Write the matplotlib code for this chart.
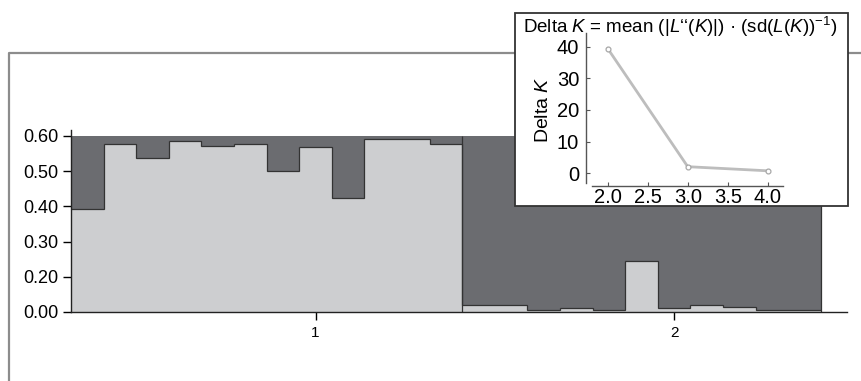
import numpy as np
import matplotlib
matplotlib.use("Agg")
import matplotlib.pyplot as plt
from matplotlib.patches import Rectangle
from matplotlib.lines import Line2D

plt.rcParams['font.family'] = ['Liberation Sans', 'DejaVu Sans']
plt.rcParams['mathtext.fontset'] = 'custom'
plt.rcParams['mathtext.rm'] = 'Liberation Sans'
plt.rcParams['mathtext.it'] = 'Liberation Sans:italic'

# membership to the light cluster, one value per individual
light_q = [0.588, 0.956, 0.873, 0.973, 0.941, 0.956, 0.803, 0.939, 0.645, 0.985, 0.985, 0.956,
           0.038, 0.038, 0.013, 0.025, 0.013, 0.288, 0.025, 0.040, 0.027, 0.011, 0.011]
group_sizes = [12, 11]
group_labels = ["1", "2"]
y_ticklabels = ["0.00", "0.20", "0.30", "0.40", "0.50", "0.60"]

# Delta K inset
k_values = [2.0, 3.0, 4.0]
delta_k = [39.4, 2.1, 0.8]

LIGHT = "#cdced0"
DARK = "#6b6c70"

W, H = 861, 381
fig = plt.figure(figsize=(W / 100, H / 100), dpi=100)

def fx(px):
    return px / W

def fy(py):
    return (H - py) / H

# outer frame (only left and top edges are inside the picture)
fig.add_artist(Line2D([fx(9), fx(9), 1.0], [0.0, fy(53), fy(53)], transform=fig.transFigure,
                      color="#8c8c8c", lw=1.6, zorder=0))

ax = fig.add_axes([fx(71), fy(312), fx(847) - fx(71), fy(130) - fy(312)])
light = np.array(light_q)
dark = 1 - light
x = np.arange(len(light)) + 0.5
ax.bar(x, light, width=1.0, color=LIGHT, edgecolor="none")
ax.bar(x, dark, width=1.0, bottom=light, color=DARK, edgecolor="none")
edges = np.arange(len(light) + 1)
ax.stairs(light, edges, baseline=None, color="#333333", lw=0.9)
bounds = np.concatenate([[0], np.cumsum(group_sizes)])
ax.vlines(bounds[1:], 0, 1, color="#333333", lw=0.9)

ax.set_xlim(0, 23.8)
ax.set_ylim(0, 1.034)
ax.set_yticks(np.linspace(0, 1, len(y_ticklabels)))
ax.set_yticklabels(y_ticklabels, fontsize=13)
ax.set_xticks([7.5, 18.5])
ax.set_xticklabels(group_labels, fontsize=11)
ax.tick_params(axis="y", direction="out", length=6, width=1, pad=3)
ax.tick_params(axis="x", direction="out", length=6, width=1, pad=4)
for s in ["top", "right"]:
    ax.spines[s].set_visible(False)
for s in ["left", "bottom"]:
    ax.spines[s].set_color("#222222")
    ax.spines[s].set_linewidth(1.0)

# inset box
fig.patches.append(Rectangle((fx(515), fy(206)), fx(848) - fx(515), fy(13) - fy(206),
                             transform=fig.transFigure, facecolor="white", edgecolor="#333333",
                             lw=1.3, zorder=5))

ins = fig.add_axes([fx(591.7), fy(185.7), fx(783) - fx(591.7), fy(33) - fy(185.7)], zorder=6)
ins.patch.set_alpha(0)
ins.plot(k_values, delta_k, color="#bdbdbd", lw=2, marker="o", ms=3.5,
         mfc="white", mec="#a8a8a8", mew=0.9)
ins.set_xlim(1.8, 4.19)
ins.set_ylim(-3.9, 44.3)
ins.set_xticks([2.0, 2.5, 3.0, 3.5, 4.0])
ins.set_xticklabels(["2.0", "2.5", "3.0", "3.5", "4.0"])
ins.set_yticks([0, 10, 20, 30, 40])
ins.tick_params(labelsize=14.5, direction="in", length=3, width=0.8, color="#555555")
ins.tick_params(axis="x", pad=1.5)
ins.tick_params(axis="y", pad=5)
for s in ["top", "right"]:
    ins.spines[s].set_visible(False)
ins.spines["left"].set_position(("outward", 4))
ins.spines["left"].set_bounds(-3.1, 44.3)
for s in ["left", "bottom"]:
    ins.spines[s].set_color("#555555")
    ins.spines[s].set_linewidth(1.0)

fig.text(fx(543), fy(110), "Delta $K$", rotation=90, ha="center", va="center", fontsize=14, zorder=7)
fig.text(fx(680), fy(27), "Delta $K$ = mean (|$L$\u2018\u2018($K$)|) \u00b7 (sd($L$($K$))$^{-1}$)",
         ha="center", va="center", fontsize=13.5, zorder=7)

fig.savefig("out.png", dpi=100)
